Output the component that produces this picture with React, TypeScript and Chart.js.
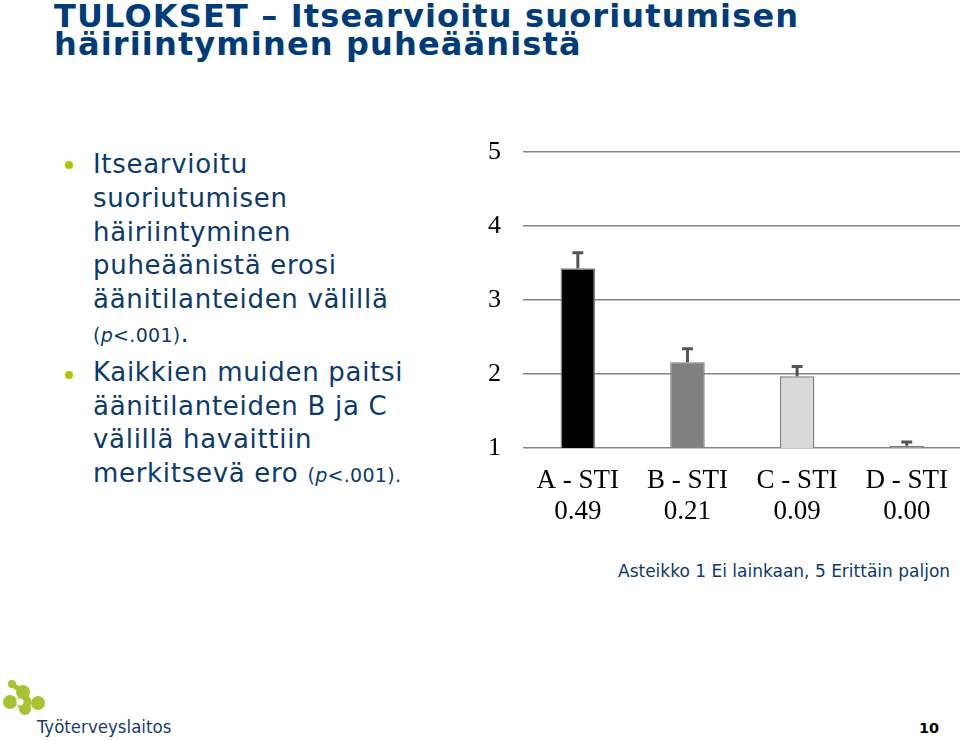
import React, { useEffect, useRef } from "react";
import { Chart, registerables } from "chart.js";

Chart.register(...registerables);

const categories = ["A - STI", "B - STI", "C - STI", "D - STI"];
const stiValues = ["0.49", "0.21", "0.09", "0.00"];
const means = [3.43, 2.16, 1.97, 1.03];
const errors = [0.21, 0.18, 0.13, 0.05];
const yTicks = [1, 2, 3, 4, 5];

const barFills = ["#000000", "#808080", "#d9d9d9", "#a6a6a6"];

const errorBarPlugin = {
  id: "errorBars",
  afterDatasetsDraw(chart: any) {
    const ctx = chart.ctx;
    const y = chart.scales.y;
    const meta = chart.getDatasetMeta(0);
    ctx.save();
    ctx.strokeStyle = "#555555";
    ctx.lineWidth = 3;
    meta.data.forEach((bar: any, i: number) => {
      const top = y.getPixelForValue(means[i] + errors[i]);
      ctx.beginPath();
      ctx.moveTo(bar.x, bar.y);
      ctx.lineTo(bar.x, top);
      ctx.moveTo(bar.x - 5.5, top);
      ctx.lineTo(bar.x + 5.5, top);
      ctx.stroke();
    });
    ctx.restore();
  },
};

function BarChart() {
  const ref = useRef<HTMLCanvasElement>(null);
  useEffect(() => {
    if (!ref.current) return;
    const chart = new Chart(ref.current, {
      type: "bar",
      data: {
        labels: categories.map((c, i) => [c, stiValues[i]]),
        datasets: [
          {
            data: means,
            backgroundColor: barFills,
            borderColor: "#7f7f7f",
            borderWidth: 1.5,
            categoryPercentage: 1,
            barPercentage: 0.315,
          },
        ],
      },
      options: {
        animation: false,
        responsive: false,
        layout: { padding: { top: 22, left: 0, right: 0, bottom: 0 } },
        plugins: { legend: { display: false }, tooltip: { enabled: false } },
        scales: {
          x: {
            grid: { display: false, drawTicks: false },
            border: { display: false },
            ticks: {
              color: "#000000",
              font: { family: "'Liberation Serif', 'Times New Roman', serif", size: 27, lineHeight: 1.17 },
              padding: 17,
              maxRotation: 0,
              autoSkip: false,
            },
            afterFit: (scale: any) => {
              scale.height = 82;
            },
          },
          y: {
            min: yTicks[0],
            max: yTicks[yTicks.length - 1],
            beginAtZero: false,
            afterBuildTicks: (scale: any) => {
              scale.ticks = yTicks.map((v) => ({ value: v }));
            },
            grid: { color: "#868686", lineWidth: 1.5, drawTicks: false },
            border: { display: false },
            ticks: {
              color: "#000000",
              font: { family: "'Liberation Serif', 'Times New Roman', serif", size: 26 },
              padding: 0,
              crossAlign: "far",
            },
            afterFit: (scale: any) => {
              scale.width = 35;
            },
          },
        },
      },
      plugins: [errorBarPlugin],
    });
    return () => chart.destroy();
  }, []);
  return (
    <canvas
      ref={ref}
      width={477}
      height={400}
      style={{ position: "absolute", left: 488, top: 130, width: 477, height: 400 }}
    />
  );
}

const bodyColor = "#0b3a6e";
const sans = "'DejaVu Sans', Verdana, sans-serif";

function Bullet({ top }: { top: number }) {
  return (
    <div
      style={{
        position: "absolute",
        left: 64.5,
        top: top - 4,
        width: 8,
        height: 8,
        borderRadius: "50%",
        background: "#b7c100",
      }}
    />
  );
}

export default function App() {
  const bodyStyle: React.CSSProperties = {
    position: "absolute",
    left: 93,
    fontFamily: sans,
    fontSize: 26,
    lineHeight: "33.8px",
    letterSpacing: "0.7px",
    color: bodyColor,
    whiteSpace: "nowrap",
  };
  const small: React.CSSProperties = { fontSize: 19, letterSpacing: "0.3px", lineHeight: "1" };
  return (
    <div
      style={{
        position: "fixed",
        left: 0,
        top: 0,
        width: 960,
        height: 741,
        background: "#ffffff",
        overflow: "hidden",
      }}
    >
      <div
        style={{
          position: "absolute",
          left: 54,
          top: 1.8,
          fontFamily: sans,
          fontWeight: "bold",
          fontSize: 32,
          lineHeight: "28.5px",
          letterSpacing: "1.15px",
          color: "#003b7a",
          whiteSpace: "nowrap",
        }}
      >
        <div>TULOKSET – Itsearvioitu suoriutumisen</div>
        <div>häiriintyminen puheäänistä</div>
      </div>

      <Bullet top={165} />
      <div style={{ ...bodyStyle, top: 148.1 }}>
        <div>Itsearvioitu</div>
        <div>suoriutumisen</div>
        <div>häiriintyminen</div>
        <div>puheäänistä erosi</div>
        <div>äänitilanteiden välillä</div>
        <div>
          <span style={small}>
            (<i>p</i>&lt;.001)
          </span>
          .
        </div>
      </div>

      <Bullet top={375} />
      <div style={{ ...bodyStyle, top: 355.8 }}>
        <div>Kaikkien muiden paitsi</div>
        <div>äänitilanteiden B ja C</div>
        <div>välillä havaittiin</div>
        <div>
          merkitsevä ero{" "}
          <span style={small}>
            (<i>p</i>&lt;.001).
          </span>
        </div>
      </div>

      <BarChart />

      <div
        style={{
          position: "absolute",
          left: 618,
          top: 562.5,
          fontFamily: sans,
          fontSize: 17,
          lineHeight: "17px",
          color: "#0d3a6b",
          whiteSpace: "nowrap",
        }}
      >
        Asteikko 1 Ei lainkaan, 5 Erittäin paljon
      </div>

      <svg
        width={60}
        height={60}
        style={{ position: "absolute", left: 0, top: 660 }}
        viewBox="0 0 60 60"
      >
        <g fill="#a6c431" stroke="none">
          <circle cx={12} cy={24} r={4} />
          <line x1={12} y1={24} x2={22} y2={32} stroke="#a6c431" strokeWidth={5} />
          <circle cx={23} cy={32} r={7} />
          <circle cx={10} cy={42} r={7} />
          <circle cx={38} cy={43} r={7} />
          <circle cx={25} cy={49} r={6} />
          <circle cx={24} cy={42} r={7.5} />
        </g>
        <circle cx={20} cy={42} r={3.5} fill="#ffffff" />
      </svg>
      <div
        style={{
          position: "absolute",
          left: 37,
          top: 718,
          fontFamily: "'DejaVu Sans Condensed', 'DejaVu Sans', sans-serif",
          fontSize: 18.5,
          lineHeight: "18.5px",
          color: "#1d3c6c",
          whiteSpace: "nowrap",
        }}
      >
        Työterveyslaitos
      </div>

      <div
        style={{
          position: "absolute",
          left: 919,
          top: 721,
          fontFamily: sans,
          fontWeight: "bold",
          fontSize: 14.5,
          lineHeight: "14.5px",
          color: "#000000",
        }}
      >
        10
      </div>
    </div>
  );
}
